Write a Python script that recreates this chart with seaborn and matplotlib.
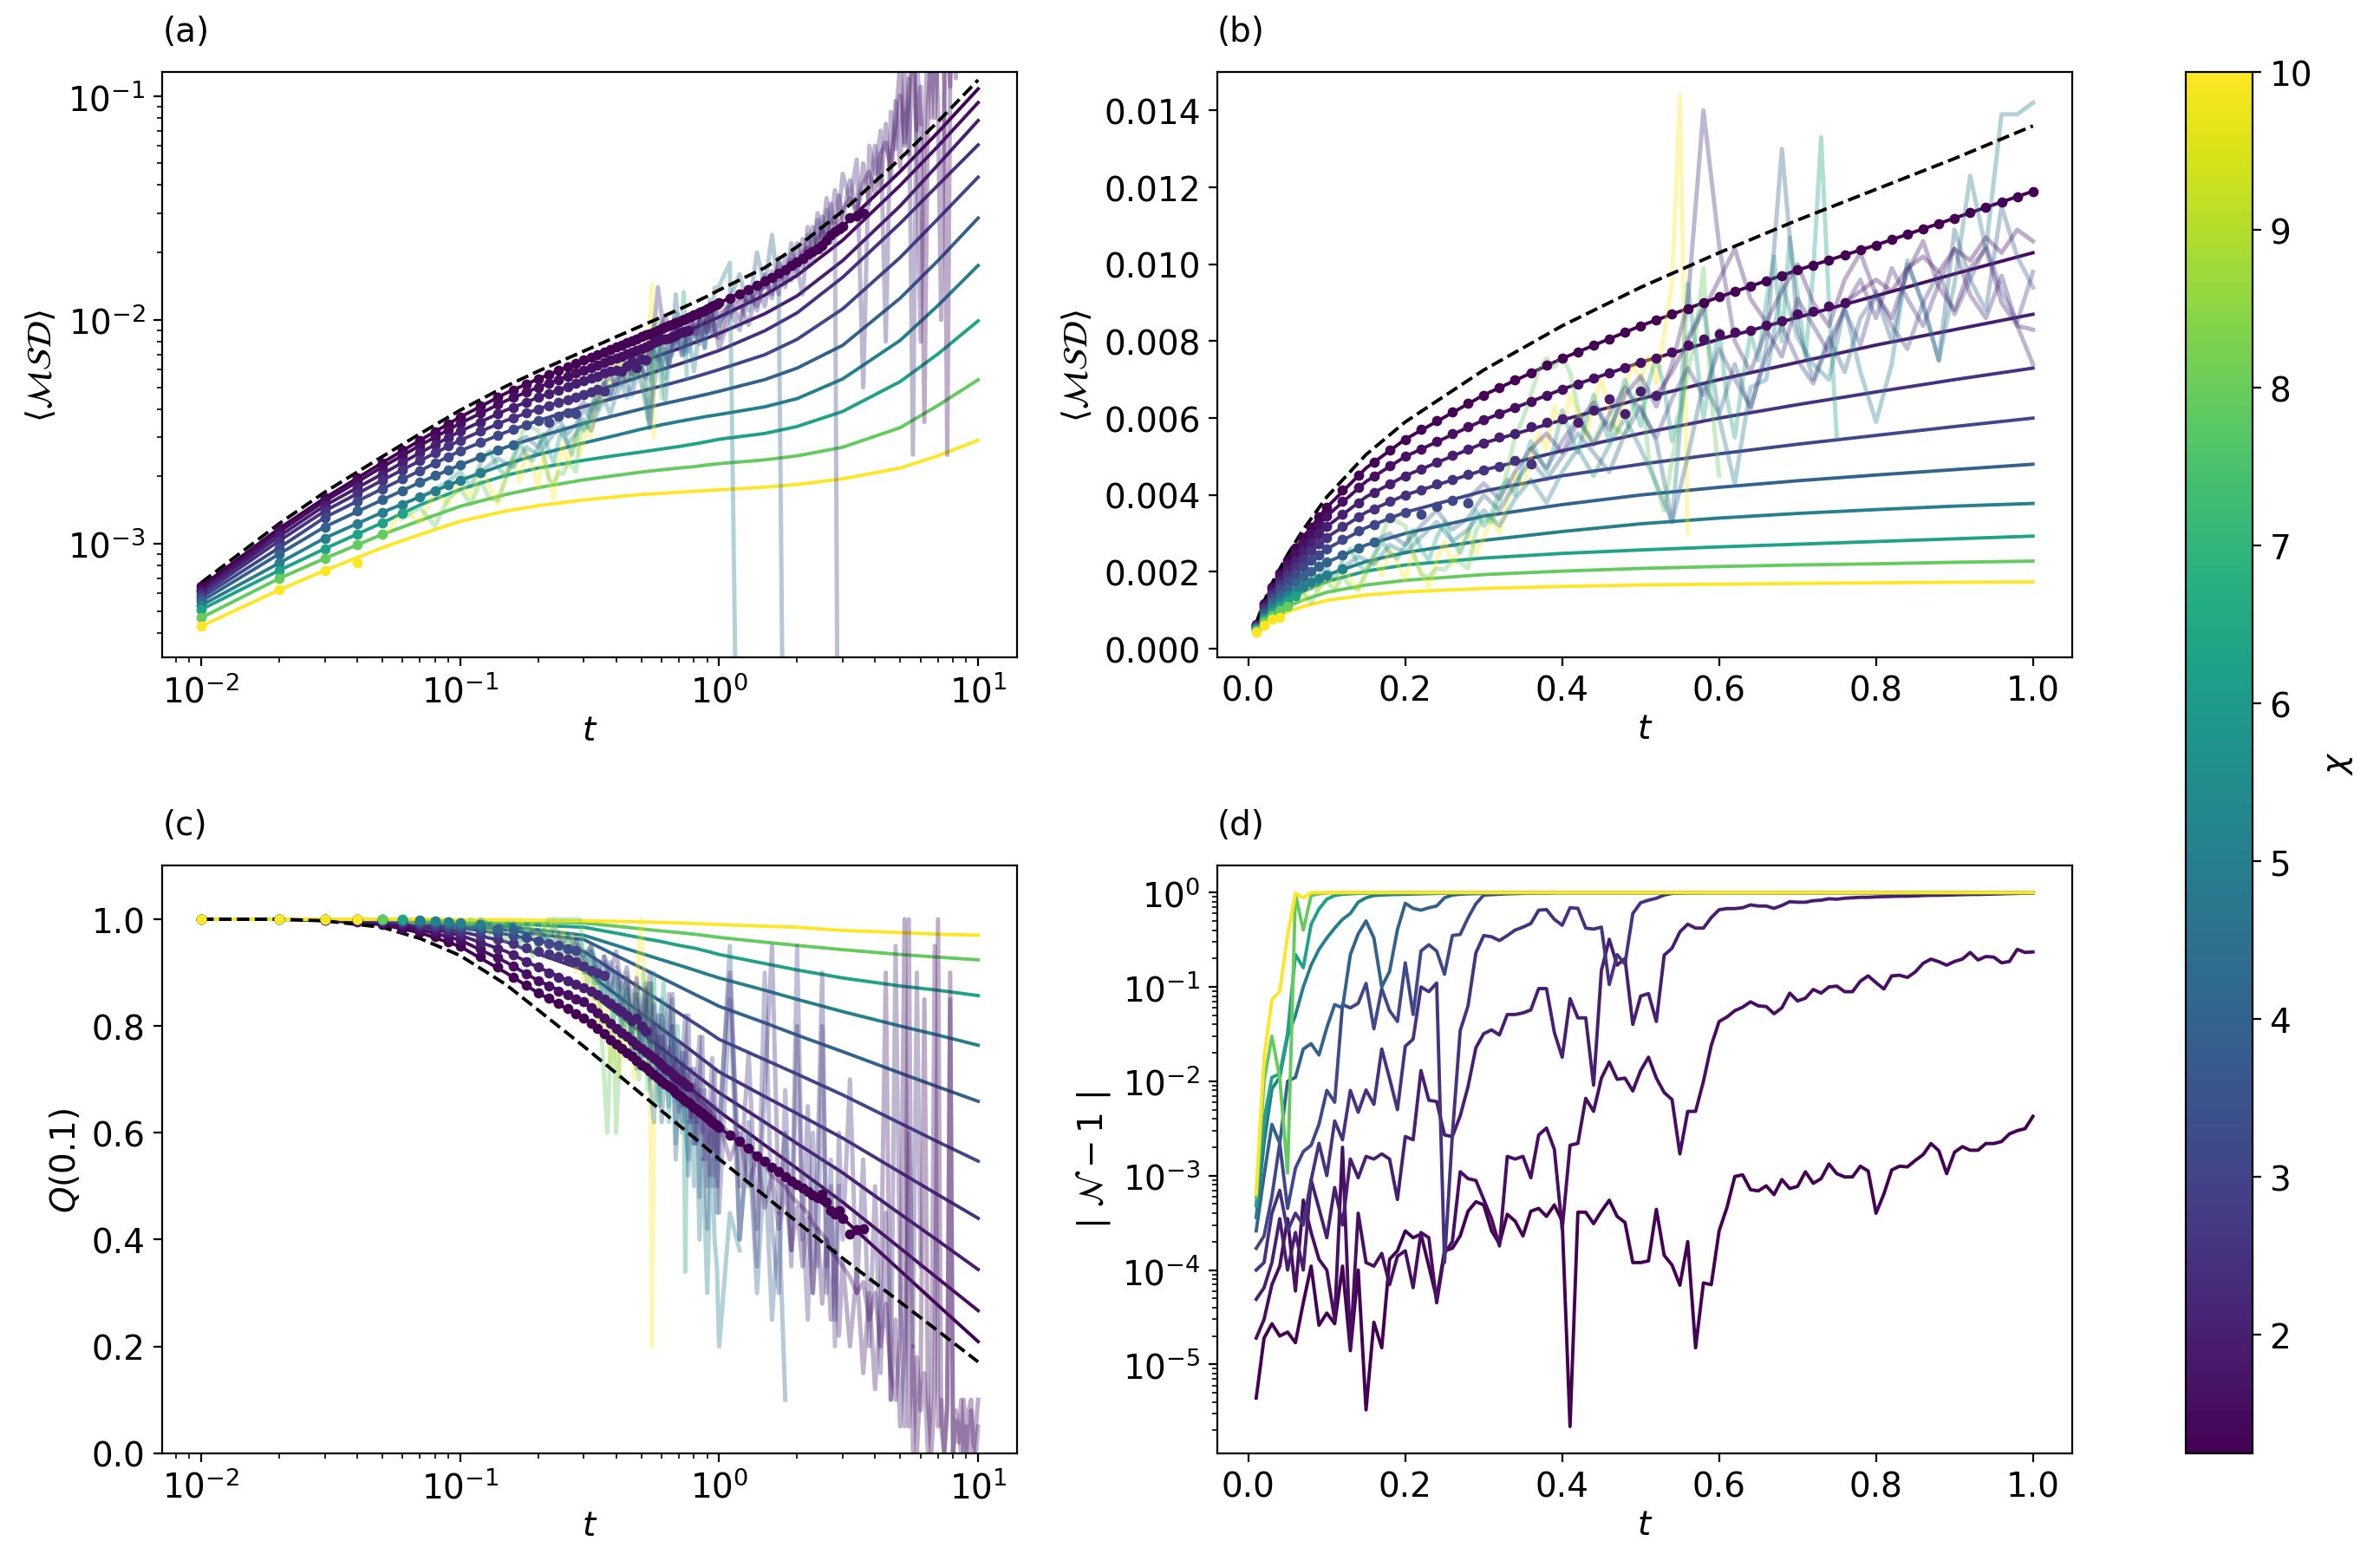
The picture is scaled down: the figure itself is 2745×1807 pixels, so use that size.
import numpy as np
import matplotlib
matplotlib.use("Agg")
import matplotlib.pyplot as plt
from matplotlib.colors import Normalize
from matplotlib.cm import ScalarMappable
import seaborn as sns

plt.rcParams["font.size"] = 14

# bond dimension of every curve (colour)
CHI = [1.25, 1.58, 1.98, 2.5, 3.15, 3.97, 5.0, 6.3, 7.94, 10.0]

# time grids of the output
T_FINE = [0.01, 0.02, 0.03, 0.04, 0.05, 0.06, 0.07, 0.08, 0.09, 0.10,
          0.11, 0.12, 0.13, 0.14, 0.15, 0.16, 0.17, 0.18, 0.19, 0.20,
          0.21, 0.22, 0.23, 0.24, 0.25, 0.26, 0.27, 0.28, 0.29, 0.30,
          0.31, 0.32, 0.33, 0.34, 0.35, 0.36, 0.37, 0.38, 0.39, 0.40,
          0.41, 0.42, 0.43, 0.44, 0.45, 0.46, 0.47, 0.48, 0.49, 0.50,
          0.51, 0.52, 0.53, 0.54, 0.55, 0.56, 0.57, 0.58, 0.59, 0.60,
          0.61, 0.62, 0.63, 0.64, 0.65, 0.66, 0.67, 0.68, 0.69, 0.70,
          0.71, 0.72, 0.73, 0.74, 0.75, 0.76, 0.77, 0.78, 0.79, 0.80,
          0.81, 0.82, 0.83, 0.84, 0.85, 0.86, 0.87, 0.88, 0.89, 0.90,
          0.91, 0.92, 0.93, 0.94, 0.95, 0.96, 0.97, 0.98, 0.99, 1.00]
T_LATE = [1.1, 1.2, 1.3, 1.4, 1.5, 1.6, 1.7, 1.8, 1.9, 2.0,
          2.1, 2.2, 2.3, 2.4, 2.5, 2.6, 2.7, 2.8, 2.9, 3.0,
          3.2, 3.4, 3.6, 3.8, 4.0, 4.2, 4.4, 4.6, 4.8, 5.0,
          5.2, 5.4, 5.6, 5.8, 6.0, 6.2, 6.4, 6.6, 6.8, 7.0,
          7.2, 7.4, 7.6, 7.8, 8.0, 8.2, 8.4, 8.6, 8.8, 9.0,
          9.2, 9.4, 9.6, 9.8, 10.0]
T_LINE = [0.01, 0.02, 0.03, 0.05, 0.07, 0.1, 0.15, 0.2, 0.3, 0.4, 0.5,
          0.6, 0.7, 0.8, 0.9, 1.0, 1.5, 2.0, 3.0, 5.0, 7.0, 10.0]

MSD_UNIT = 1e-3  # MSD values below are in units of 1e-3

# smooth MSD curves on T_LINE (X1 = chi 1.25 ... X10 = chi 10)
MSD_INF = [0.67, 1.23, 1.70, 2.45, 3.1, 3.95, 5.05, 5.9, 7.25, 8.4, 9.4,
           10.3, 11.15, 11.95, 12.75, 13.6, 17.1, 21.2, 30.6, 52.5, 76.9, 118.0]
MSD_X1 = [0.644, 1.17, 1.6, 2.3, 2.9, 3.68, 4.7, 5.45, 6.6, 7.55, 8.4,
          9.15, 9.85, 10.5, 11.2, 11.9, 14.9, 18.2, 26.2, 46.0, 68.9, 107.6]
MSD_X2 = [0.623, 1.13, 1.55, 2.2, 2.75, 3.45, 4.35, 5.0, 5.95, 6.75, 7.45,
          8.05, 8.62, 9.18, 9.75, 10.3, 12.9, 15.8, 22.7, 39.9, 59.7, 93.5]
MSD_X3 = [0.61, 1.08, 1.48, 2.05, 2.55, 3.18, 3.95, 4.5, 5.35, 5.95, 6.5,
          7.0, 7.45, 7.9, 8.3, 8.7, 10.65, 12.8, 18.4, 32.3, 49.3, 77.7]
MSD_X4 = [0.593, 1.03, 1.4, 1.92, 2.35, 2.9, 3.55, 4.0, 4.65, 5.15, 5.6,
          6.0, 6.35, 6.68, 7.0, 7.3, 8.94, 10.75, 15.5, 27.0, 40.0, 60.5]
MSD_X5 = [0.575, 0.96, 1.31, 1.76, 2.12, 2.6, 3.15, 3.55, 4.1, 4.5, 4.8,
          5.07, 5.32, 5.55, 5.78, 6.0, 6.99, 8.19, 11.2, 19.0, 28.3, 43.4]
MSD_X6 = [0.553, 0.9, 1.19, 1.57, 1.88, 2.25, 2.7, 3.0, 3.45, 3.75, 4.0,
          4.2, 4.37, 4.52, 4.66, 4.8, 5.41, 6.09, 7.7, 12.5, 18.4, 28.5]
MSD_X7 = [0.53, 0.82, 1.06, 1.38, 1.62, 1.92, 2.27, 2.5, 2.82, 3.05, 3.25,
          3.4, 3.52, 3.62, 3.71, 3.78, 4.09, 4.45, 5.45, 8.1, 11.6, 17.5]
MSD_X8 = [0.508, 0.76, 0.95, 1.24, 1.49, 1.75, 2.02, 2.18, 2.36, 2.48, 2.57,
          2.65, 2.72, 2.79, 2.86, 2.93, 3.11, 3.34, 3.9, 5.3, 7.05, 9.9]
MSD_X9 = [0.467, 0.70, 0.86, 1.1, 1.27, 1.47, 1.66, 1.78, 1.93, 2.02, 2.09,
          2.14, 2.18, 2.21, 2.25, 2.28, 2.37, 2.47, 2.7, 3.3, 4.15, 5.4]
MSD_X10 = [0.428, 0.622, 0.76, 0.96, 1.1, 1.26, 1.4, 1.48, 1.57, 1.62, 1.66,
           1.68, 1.7, 1.715, 1.73, 1.74, 1.79, 1.84, 1.95, 2.18, 2.47, 2.9]

# smooth Q(0.1) curves on T_LINE
Q_INF = [1.0, 1.0, 0.997, 0.985, 0.964, 0.932, 0.878, 0.83, 0.762, 0.712, 0.673,
         0.641, 0.614, 0.591, 0.57, 0.551, 0.482, 0.433, 0.365, 0.283, 0.229, 0.171]
Q_X1 = [1.0, 1.0, 0.998, 0.99, 0.975, 0.949, 0.90, 0.862, 0.815, 0.766, 0.728,
        0.697, 0.67, 0.648, 0.628, 0.61, 0.547, 0.503, 0.44, 0.342, 0.277, 0.209]
Q_X2 = [1.0, 1.0, 0.999, 0.993, 0.981, 0.961, 0.92, 0.885, 0.845, 0.796, 0.758,
        0.727, 0.70, 0.678, 0.658, 0.64, 0.577, 0.533, 0.47, 0.384, 0.327, 0.267]
Q_X3 = [1.0, 1.0, 1.0, 0.996, 0.987, 0.97, 0.94, 0.91, 0.872, 0.825, 0.788,
        0.758, 0.733, 0.711, 0.692, 0.675, 0.62, 0.58, 0.525, 0.448, 0.398, 0.344]
Q_X4 = [1.0, 1.0, 1.0, 0.997, 0.991, 0.977, 0.958, 0.935, 0.905, 0.859, 0.824,
        0.795, 0.771, 0.75, 0.731, 0.714, 0.668, 0.636, 0.59, 0.526, 0.484, 0.44]
Q_X5 = [1.0, 1.0, 1.0, 0.998, 0.994, 0.984, 0.972, 0.96, 0.94, 0.90, 0.87,
        0.845, 0.824, 0.806, 0.79, 0.775, 0.737, 0.71, 0.671, 0.618, 0.583, 0.547]
Q_X6 = [1.0, 1.0, 1.0, 0.999, 0.997, 0.989, 0.98, 0.972, 0.962, 0.932, 0.909,
        0.89, 0.874, 0.86, 0.848, 0.837, 0.806, 0.783, 0.752, 0.712, 0.686, 0.659]
Q_X7 = [1.0, 1.0, 1.0, 1.0, 0.998, 0.993, 0.987, 0.98, 0.97, 0.951, 0.936,
        0.924, 0.914, 0.905, 0.897, 0.89, 0.867, 0.85, 0.827, 0.80, 0.783, 0.764]
Q_X8 = [1.0, 1.0, 1.0, 1.0, 0.999, 0.995, 0.992, 0.989, 0.985, 0.974, 0.965,
        0.958, 0.951, 0.946, 0.94, 0.934, 0.917, 0.905, 0.89, 0.875, 0.867, 0.857]
Q_X9 = [1.0, 1.0, 1.0, 1.0, 1.0, 0.998, 0.997, 0.995, 0.993, 0.987, 0.982,
        0.978, 0.975, 0.972, 0.969, 0.966, 0.957, 0.951, 0.943, 0.934, 0.929, 0.924]
Q_X10 = [1.0, 1.0, 1.0, 1.0, 1.0, 0.999, 0.999, 0.998, 0.997, 0.996, 0.995,
         0.994, 0.993, 0.992, 0.991, 0.99, 0.987, 0.985, 0.979, 0.975, 0.972, 0.97]

# simulation points (dots), on DOT_T, each curve up to its own length
DOT_T = T_FINE[:10] + T_FINE[11:100:2] + T_LATE[:23]
DOT_MSD_X1 = [0.644, 1.17, 1.6, 1.97, 2.3, 2.61, 2.9, 3.17, 3.43, 3.68,
              4.12, 4.52, 4.86, 5.17, 5.45, 5.7, 5.94, 6.17, 6.39, 6.6,
              6.8, 6.99, 7.18, 7.37, 7.55, 7.72, 7.89, 8.06, 8.23, 8.4,
              8.55, 8.7, 8.85, 9.0, 9.15, 9.29, 9.43, 9.57, 9.71, 9.85,
              9.98, 10.11, 10.24, 10.37, 10.5, 10.64, 10.78, 10.92, 11.06, 11.2,
              11.34, 11.48, 11.62, 11.76, 11.9,
              12.5, 13.1, 13.7, 14.3, 14.9, 15.5, 16.2, 16.8, 17.5, 18.2,
              18.9, 19.7, 20.3, 20.7, 21.6, 22.6, 23.9, 24.9, 25.4, 26.2,
              28.6, 29.2, 30.0]
DOT_MSD_X2 = [0.623, 1.13, 1.55, 1.9, 2.2, 2.48, 2.75, 3.0, 3.23, 3.45,
              3.84, 4.2, 4.5, 4.76, 5.0, 5.2, 5.4, 5.6, 5.78, 5.95,
              6.12, 6.28, 6.44, 6.6, 6.75, 6.89, 7.03, 7.17, 7.31, 7.45,
              7.57, 7.72, 7.9, 8.05, 8.2, 8.24, 8.28, 8.42, 8.52, 8.72,
              8.78, 8.92, 9.0]
DOT_MSD_X3 = [0.61, 1.08, 1.48, 1.78, 2.05, 2.31, 2.55, 2.77, 2.98, 3.18,
              3.5, 3.8, 4.06, 4.29, 4.5, 4.68, 4.86, 5.03, 5.2, 5.35,
              5.5, 5.6, 5.78, 5.9, 5.98, 5.9, 6.2, 6.5, 6.12, 6.7, 6.6]
DOT_MSD_X4 = [0.593, 1.03, 1.4, 1.68, 1.92, 2.14, 2.35, 2.55, 2.73, 2.9,
              3.18, 3.44, 3.64, 3.83, 4.0, 4.14, 4.28, 4.41, 4.53, 4.65,
              4.75, 4.9, 4.8]
DOT_MSD_X5 = [0.575, 0.96, 1.31, 1.55, 1.76, 1.95, 2.12, 2.3, 2.45, 2.6,
              2.85, 3.06, 3.24, 3.4, 3.55, 3.5, 3.7, 3.85, 3.8]
DOT_MSD_X6 = [0.553, 0.9, 1.19, 1.4, 1.57, 1.73, 1.88, 2.02, 2.14, 2.25, 2.45, 2.62, 2.77]
DOT_MSD_X7 = [0.53, 0.82, 1.06, 1.23, 1.38, 1.5, 1.62, 1.73, 1.83, 1.92, 2.07]
DOT_MSD_X8 = [0.508, 0.76, 0.95, 1.1, 1.24, 1.37]
DOT_MSD_X9 = [0.467, 0.70, 0.86, 0.99, 1.1]
DOT_MSD_X10 = [0.428, 0.622, 0.76, 0.82]

DOT_Q_X1 = [1.0, 1.0, 0.998, 0.995, 0.99, 0.983, 0.975, 0.967, 0.958, 0.949,
            0.93, 0.91, 0.892, 0.876, 0.862, 0.852, 0.842, 0.832, 0.823, 0.815,
            0.805, 0.795, 0.785, 0.775, 0.766, 0.758, 0.75, 0.743, 0.735, 0.728,
            0.722, 0.716, 0.709, 0.703, 0.697, 0.692, 0.686, 0.681, 0.675, 0.67,
            0.666, 0.661, 0.657, 0.652, 0.648, 0.644, 0.64, 0.636, 0.632, 0.628,
            0.624, 0.62, 0.617, 0.613, 0.61,
            0.595, 0.585, 0.572, 0.557, 0.547, 0.535, 0.528, 0.518, 0.51, 0.503,
            0.497, 0.49, 0.484, 0.478, 0.485, 0.47, 0.455, 0.448, 0.455, 0.44,
            0.41, 0.418, 0.42]
DOT_Q_X2 = [1.0, 1.0, 0.999, 0.997, 0.993, 0.988, 0.981, 0.975, 0.968, 0.961,
            0.945, 0.928, 0.913, 0.898, 0.885, 0.875, 0.866, 0.858, 0.851, 0.845,
            0.835, 0.825, 0.815, 0.805, 0.796, 0.788, 0.78, 0.772, 0.765, 0.758,
            0.752, 0.746, 0.74, 0.733, 0.727, 0.721, 0.716, 0.71, 0.705, 0.70,
            0.696, 0.691, 0.687]
DOT_Q_X3 = [1.0, 1.0, 1.0, 0.998, 0.996, 0.992, 0.987, 0.982, 0.976, 0.97,
            0.957, 0.945, 0.933, 0.921, 0.91, 0.9, 0.892, 0.885, 0.878, 0.872,
            0.865, 0.858, 0.85, 0.842, 0.835, 0.828, 0.82, 0.81, 0.815, 0.80, 0.79]
DOT_Q_X4 = [1.0, 1.0, 1.0, 0.999, 0.997, 0.995, 0.991, 0.987, 0.982, 0.977,
            0.969, 0.962, 0.954, 0.946, 0.94, 0.935, 0.93, 0.925, 0.92, 0.912,
            0.905, 0.90, 0.895]
DOT_Q_X5 = [1.0, 1.0, 1.0, 1.0, 0.998, 0.996, 0.994, 0.99, 0.987, 0.984,
            0.979, 0.974, 0.97, 0.966, 0.96, 0.955, 0.952, 0.945, 0.942]
DOT_Q_X6 = [1.0, 1.0, 1.0, 1.0, 0.999, 0.998, 0.997, 0.995, 0.992, 0.989, 0.986, 0.983, 0.98]
DOT_Q_X7 = [1.0, 1.0, 1.0, 1.0, 1.0, 0.999, 0.998, 0.997, 0.995, 0.993, 0.991]
DOT_Q_X8 = [1.0, 1.0, 1.0, 1.0, 1.0, 1.0]
DOT_Q_X9 = [1.0, 1.0, 1.0, 1.0, 1.0]
DOT_Q_X10 = [1.0, 1.0, 1.0, 1.0]

# noisy continuation of the simulations (drawn faint)
NT_X10 = T_FINE[4:56]
NT_X9 = T_FINE[5:60]
NT_X8 = T_FINE[6:75]
NT_X7 = T_FINE[11:100:2] + T_LATE[0:2]
NT_X6 = T_FINE[15:100:2] + T_LATE[0:8]
NT_X5 = T_FINE[27:100:2] + T_LATE[0:19]
NT_X4 = T_FINE[35:100:2] + T_LATE[0:35]
NT_X3 = T_FINE[51:100:2] + T_LATE
NT_X2 = T_FINE[75:100:2] + T_LATE

N_MSD_X10 = [1.05, 1.4, 1.25, 1.7, 1.5, 1.9, 1.6, 2.2, 1.8, 1.5,
             2.1, 2.4, 1.9, 2.6, 2.2, 1.8, 2.5, 2.0, 1.6, 2.3,
             2.8, 2.2, 2.6, 3.1, 2.5, 2.9, 3.4, 3.0, 3.8, 4.6,
             4.2, 5.0, 5.6, 5.2, 6.3, 5.8, 6.6, 6.1, 5.5, 6.4,
             7.0, 6.2, 5.6, 6.8, 7.4, 7.0, 7.6, 6.9, 8.2, 9.5,
             14.4, 3.0]
N_MSD_X9 = [1.3, 1.45, 1.2, 1.6, 1.75, 1.5, 1.9, 1.6, 1.56, 1.94,
            2.3, 2.9, 3.5, 3.3, 3.2, 2.5, 1.94, 1.86, 2.09, 2.05,
            2.31, 2.24, 2.09, 3.06, 3.43, 3.28, 3.81, 4.63, 5.53, 5.98,
            6.6, 7.25, 7.55, 7.32, 7.62, 7.18, 6.28, 5.68, 5.38, 5.83,
            5.9, 5.7, 5.53, 6.28, 7.03, 5.0, 4.2, 3.6, 4.9, 6.0,
            7.2, 8.1, 9.9, 6.5, 4.5]
N_MSD_X8 = [1.6, 1.75, 1.9, 2.1, 1.8, 2.3, 2.6, 2.2, 2.0, 2.45,
            2.8, 2.5, 2.35, 2.7, 3.1, 2.6, 2.3, 2.9, 3.3, 2.8,
            2.5, 3.0, 3.6, 3.2, 3.5, 4.1, 4.4, 4.0, 4.8, 5.4,
            5.0, 4.6, 5.3, 6.2, 5.6, 5.1, 5.9, 6.6, 6.0, 5.4,
            6.3, 7.0, 6.4, 5.8, 6.9, 7.6, 6.8, 5.4, 6.2, 9.5,
            7.8, 6.0, 7.2, 8.3, 6.5, 5.5, 7.0, 8.2, 7.5, 9.0,
            10.2, 8.0, 10.7, 9.2, 7.6, 9.8, 13.3, 9.0, 5.5]
N_MSD_X7 = [2.1, 2.4, 2.2, 2.7, 2.5, 2.9, 3.3, 2.8, 3.1, 3.6,
            3.2, 3.9, 4.4, 3.8, 4.6, 5.2, 4.5, 5.3, 6.0, 5.2,
            4.3, 3.3, 8.1, 8.9, 6.0, 4.3, 6.8, 7.0, 9.5, 8.1,
            7.4, 7.0, 8.9, 7.2, 5.9, 7.4, 10.1, 8.9, 7.5, 9.5,
            12.3, 10.4, 13.9, 13.9, 14.2,
            18.0, 0.01]
N_MSD_X6 = [2.8, 3.0, 2.7, 3.2, 3.6, 3.1, 3.4, 4.0, 3.6, 4.3,
            4.9, 4.4, 5.0, 5.6, 5.1, 4.6, 5.6, 6.3, 5.4, 3.3,
            5.0, 6.9, 6.1, 7.4, 6.2, 7.8, 13.0, 8.4, 7.0, 8.1,
            7.2, 8.6, 9.2, 8.0, 10.0, 9.0, 7.5, 10.9, 9.6, 8.8,
            11.5, 10.2, 9.4,
            12.5, 16.0, 11.0, 20.0, 14.0, 24.0, 13.0, 0.01]
N_MSD_X5 = [3.9, 4.3, 3.9, 4.6, 5.2, 4.7, 5.4, 6.0, 5.3, 6.1,
            6.8, 6.2, 5.5, 6.5, 7.3, 6.6, 7.8, 7.0, 6.3, 7.6,
            8.4, 7.5, 6.9, 8.0, 8.8, 7.9, 9.3, 8.4, 7.8, 9.0,
            9.8, 8.7, 9.6, 10.5, 9.3, 8.5, 9.8,
            11.0, 9.0, 13.5, 11.0, 16.0, 12.5, 19.0, 14.0, 22.0, 17.0,
            13.0, 24.0, 18.0, 28.0, 20.0, 31.0, 22.0, 27.0, 0.01]
N_MSD_X4 = [5.2, 5.6, 5.1, 5.9, 6.4, 5.7, 6.6, 7.1, 6.3, 7.4,
            9.0, 14.0, 10.5, 8.0, 7.2, 8.3, 7.6, 9.1, 8.4, 7.7,
            8.9, 9.6, 8.6, 9.9, 9.1, 8.4, 9.5, 10.4, 9.2, 8.6,
            9.7, 8.4, 7.4,
            10.5, 12.0, 9.5, 14.0, 11.5, 16.5, 13.0, 19.0, 15.0, 22.0,
            17.0, 26.0, 20.0, 30.0, 23.0, 35.0, 27.0, 38.0, 30.0, 45.0,
            34.0, 52.0, 5.0, 60.0, 45.0, 70.0, 8.0, 85.0, 58.0, 100.0,
            62.0, 120.0, 2.5, 150.0, 75.0]
N_MSD_X3 = [6.6, 7.2, 8.0, 8.8, 9.6, 10.4, 9.1, 8.5, 9.3, 10.0,
            9.0, 8.4, 9.6, 10.3, 9.2, 8.6, 9.8, 10.6, 9.4, 8.8,
            9.9, 10.4, 9.0, 8.4, 8.3,
            12.0, 10.0, 14.0, 11.5, 15.5, 13.0, 18.0, 14.5, 20.0, 16.0,
            23.0, 18.0, 26.0, 20.0, 29.0, 23.0, 33.0, 26.0, 36.0, 28.0,
            42.0, 30.0, 50.0, 33.0, 60.0, 38.0, 75.0, 42.0, 95.0, 48.0,
            130.0, 55.0, 160.0, 60.0, 8.0, 70.0, 180.0, 80.0, 200.0, 90.0,
            10.0, 100.0, 220.0, 110.0, 250.0, 120.0, 260.0, 130.0, 280.0, 140.0,
            300.0, 150.0, 320.0, 160.0, 340.0]
N_MSD_X2 = [9.0, 9.3, 9.6, 9.3, 9.9, 10.2, 9.8, 10.4, 10.1, 10.7,
            10.3, 10.9, 10.6,
            11.5, 12.5, 12.0, 13.5, 14.0, 15.5, 15.0, 17.0, 18.5, 17.5,
            20.0, 21.0, 19.5, 23.0, 25.0, 23.0, 27.0, 29.0, 26.0, 31.0,
            35.0, 30.0, 41.0, 46.0, 37.0, 55.0, 62.0, 48.0, 75.0, 140.0,
            60.0, 95.0, 200.0, 70.0, 110.0, 3.5, 90.0, 160.0, 80.0, 150.0,
            250.0, 110.0, 2.5, 130.0, 200.0, 150.0, 300.0, 170.0, 220.0, 400.0,
            190.0, 260.0, 450.0, 230.0, 300.0]

N_Q_X10 = [1.0, 1.0, 0.99, 1.0, 0.99, 1.0, 0.99, 1.0, 0.98, 1.0,
           0.99, 0.97, 1.0, 0.98, 0.99, 0.96, 0.99, 0.97, 1.0, 0.95,
           0.98, 0.93, 0.97, 0.90, 0.94, 0.88, 0.92, 0.85, 0.90, 0.80,
           0.86, 0.78, 0.83, 0.72, 0.80, 0.75, 0.70, 0.78, 0.82, 0.74,
           0.85, 0.78, 0.70, 0.88, 0.95, 1.0, 0.92, 0.85, 0.78, 0.88,
           0.20, 0.62]
N_Q_X9 = [1.0, 0.99, 1.0, 0.99, 0.98, 1.0, 0.99, 0.97, 0.99, 0.96,
          0.98, 0.95, 0.97, 0.93, 0.96, 0.98, 1.0, 1.0, 1.0, 1.0,
          1.0, 1.0, 1.0, 1.0, 0.93, 0.88, 0.92, 0.85, 0.90, 0.80,
          0.70, 0.60, 0.75, 0.85, 0.60, 0.72, 0.88, 0.80, 0.90, 0.83,
          0.75, 0.86, 0.78, 0.70, 0.82, 0.90, 0.76, 0.68, 0.80, 0.88,
          0.72, 0.80, 0.66, 0.75, 0.70]
N_Q_X8 = [1.0, 0.99, 1.0, 0.99, 0.98, 1.0, 0.99, 0.97, 0.99, 0.98,
          0.96, 0.99, 0.97, 0.95, 0.98, 0.96, 0.99, 0.97, 0.94, 0.97,
          0.95, 0.92, 0.96, 0.93, 0.90, 0.94, 0.88, 0.92, 0.86, 0.90,
          0.84, 0.88, 0.80, 0.85, 0.90, 0.82, 0.78, 0.86, 0.80, 0.75,
          0.83, 0.88, 0.79, 0.72, 0.80, 0.85, 0.76, 0.70, 0.82, 0.90,
          0.78, 0.74, 0.65, 0.80, 0.88, 0.75, 0.70, 0.62, 0.78, 0.85,
          0.72, 0.66, 0.80, 0.74, 0.68, 0.60, 0.72, 0.34, 0.62]
N_Q_X7 = [0.99, 0.98, 0.99, 0.97, 0.98, 0.96, 0.94, 0.97, 0.95, 0.92,
          0.95, 0.90, 0.86, 0.92, 0.85, 0.80, 0.88, 0.78, 0.72, 0.82,
          0.88, 0.70, 0.62, 0.78, 0.85, 0.72, 0.65, 0.80, 0.58, 0.70,
          0.75, 0.62, 0.55, 0.68, 0.50, 0.62, 0.40, 0.55, 0.45, 0.30,
          0.48, 0.55, 0.40, 0.35, 0.20,
          0.45, 0.38]
N_Q_X6 = [0.99, 0.97, 0.98, 0.95, 0.97, 0.93, 0.96, 0.90, 0.94, 0.88,
          0.92, 0.85, 0.90, 0.82, 0.87, 0.78, 0.85, 0.72, 0.80, 0.88,
          0.70, 0.78, 0.62, 0.75, 0.68, 0.80, 0.55, 0.70, 0.62, 0.75,
          0.52, 0.66, 0.58, 0.70, 0.48, 0.62, 0.55, 0.42, 0.60, 0.50,
          0.65, 0.45, 0.58,
          0.95, 0.40, 0.60, 0.30, 0.55, 0.25, 0.45, 0.10]
N_Q_X5 = [0.96, 0.93, 0.95, 0.90, 0.93, 0.87, 0.91, 0.84, 0.89, 0.80,
          0.86, 0.76, 0.83, 0.90, 0.74, 0.82, 0.70, 0.79, 0.86, 0.68,
          0.77, 0.64, 0.74, 0.82, 0.62, 0.72, 0.58, 0.70, 0.78, 0.55,
          0.68, 0.50, 0.64, 0.74, 0.52, 0.60, 0.45,
          0.85, 0.40, 0.62, 0.35, 0.90, 0.42, 0.30, 0.68, 0.38, 0.95,
          0.45, 0.25, 0.60, 0.35, 0.80, 0.30, 0.55, 0.20, 0.50]
N_Q_X4 = [0.93, 0.90, 0.94, 0.87, 0.91, 0.84, 0.89, 0.80, 0.87, 0.76,
          0.84, 0.72, 0.82, 0.70, 0.79, 0.86, 0.68, 0.77, 0.65, 0.74,
          0.82, 0.62, 0.72, 0.58, 0.70, 0.78, 0.55, 0.66, 0.52, 0.64,
          0.72, 0.50, 0.62,
          0.90, 0.50, 0.75, 0.42, 0.68, 0.95, 0.45, 0.60, 0.35, 0.80,
          0.40, 0.65, 0.30, 0.55, 0.90, 0.35, 0.50, 0.25, 0.60, 0.40,
          0.70, 0.30, 0.55, 0.20, 0.50, 0.15, 0.45, 0.10, 0.95, 0.30,
          0.05, 0.60, 0.20, 0.90, 0.35]
N_Q_X3 = [0.79, 0.77, 0.80, 0.74, 0.78, 0.71, 0.76, 0.69, 0.74, 0.67,
          0.73, 0.65, 0.71, 0.63, 0.69, 0.62, 0.68, 0.60, 0.66, 0.58,
          0.65, 0.57, 0.63, 0.55, 0.62,
          0.55, 0.60, 0.50, 0.56, 0.46, 0.52, 0.42, 0.50, 0.38, 0.46,
          0.35, 0.44, 0.30, 0.42, 0.28, 0.40, 0.25, 0.38, 0.22, 0.36,
          0.20, 0.34, 0.15, 0.30, 0.12, 0.28, 0.90, 0.10, 0.25, 0.05,
          0.20, 1.0, 0.0, 0.18, 0.08, 0.15, 0.0, 0.12, 0.95, 0.05,
          0.10, 0.0, 0.08, 0.85, 0.0, 0.06, 0.02, 0.10, 0.0, 0.05,
          0.0, 0.08, 0.02, 0.0, 0.05]
N_Q_X2 = [0.687, 0.68, 0.675, 0.67, 0.66, 0.655, 0.65, 0.645, 0.64, 0.63,
          0.625, 0.62, 0.615,
          0.60, 0.58, 0.57, 0.55, 0.54, 0.52, 0.51, 0.50, 0.48, 0.47,
          0.46, 0.45, 0.43, 0.42, 0.41, 0.40, 0.38, 0.37, 0.36, 0.35,
          0.33, 0.30, 0.32, 0.25, 0.30, 0.20, 0.28, 0.15, 0.10, 0.22,
          1.0, 0.05, 0.20, 0.0, 0.15, 0.85, 0.10, 0.0, 0.12, 1.0,
          0.05, 0.0, 0.10, 0.90, 0.0, 0.08, 0.05, 0.0, 0.10, 0.0,
          0.08, 0.10, 0.0, 0.05, 0.10]

# |N - 1| on T_FINE (lines that saturate stop early and end at t = 1)
D_X1 = [4.4e-6, 1.9e-5, 2.7e-5, 2.0e-5, 2.2e-5, 1.7e-5, 4.5e-5, 1.1e-4, 2.6e-5, 3.5e-5,
        2.7e-5, 1.1e-4, 1.4e-5, 1.0e-4, 3.3e-6, 2.8e-5, 1.5e-5, 1.3e-4, 1.6e-4, 2.6e-4,
        2.2e-4, 2.4e-4, 1.1e-4, 5.0e-5, 1.6e-4, 1.7e-4, 2.3e-4, 4.2e-4, 5.3e-4, 4.9e-4,
        2.6e-4, 1.9e-4, 3.9e-4, 3.3e-4, 2.3e-4, 4.2e-4, 4.5e-4, 3.7e-4, 4.9e-4, 3.3e-4,
        2.2e-6, 4.1e-4, 4.1e-4, 3.1e-4, 4.2e-4, 5.5e-4, 3.7e-4, 3.2e-4, 1.2e-4, 1.2e-4,
        1.25e-4, 4.4e-4, 1.43e-4, 1.13e-4, 6.9e-5, 2.0e-4, 1.5e-5, 7.3e-5, 7.0e-5, 2.6e-4,
        4.6e-4, 9.8e-4, 1.02e-3, 7.1e-4, 6.9e-4, 7.8e-4, 6.3e-4, 9.1e-4, 7.3e-4, 7.7e-4,
        1.1e-3, 8.3e-4, 9.3e-4, 1.33e-3, 1.05e-3, 9.7e-4, 9.7e-4, 1.26e-3, 1.12e-3, 4.0e-4,
        6.4e-4, 1.15e-3, 1.26e-3, 1.24e-3, 1.45e-3, 1.67e-3, 2.19e-3, 1.84e-3, 1.05e-3, 1.77e-3,
        2.03e-3, 1.86e-3, 1.86e-3, 2.19e-3, 2.19e-3, 2.3e-3, 2.77e-3, 3.0e-3, 3.15e-3, 4.25e-3]
D_X2 = [1.9e-5, 3.0e-5, 7.0e-5, 1.1e-4, 3.5e-4, 6.0e-5, 5.5e-4, 2.5e-4, 1.3e-4, 1.0e-4,
        3.0e-5, 2.0e-3, 1.5e-5, 4.0e-4, 1.2e-4, 1.1e-4, 1.5e-4, 7.0e-5, 1.4e-4, 1.6e-4,
        6.5e-5, 2.5e-4, 2.2e-4, 4.5e-5, 1.5e-4, 2.0e-4, 1.1e-3, 9.3e-4, 8.9e-4, 5.6e-4,
        3.5e-4, 1.8e-4, 1.6e-3, 1.5e-3, 1.6e-3, 9.5e-4, 2.7e-3, 3.2e-3, 1.9e-3, 2.7e-4,
        2.1e-3, 2.2e-3, 6.6e-3, 4.8e-3, 1.08e-2, 1.6e-2, 1.05e-2, 1.08e-2, 7.9e-3, 1.3e-2,
        1.8e-2, 1.08e-2, 7.6e-3, 6.4e-3, 1.7e-3, 4.8e-3, 4.8e-3, 1.0e-2, 2.4e-2, 4.3e-2,
        4.8e-2, 5.6e-2, 6.1e-2, 6.95e-2, 6.3e-2, 6.2e-2, 5.2e-2, 6.0e-2, 8.6e-2, 7.1e-2,
        7.6e-2, 9.4e-2, 8.6e-2, 0.1, 0.102, 8.9e-2, 8.9e-2, 0.115, 0.131, 0.111,
        9.5e-2, 0.131, 0.133, 0.126, 0.144, 0.178, 0.197, 0.185, 0.17, 0.186,
        0.197, 0.232, 0.193, 0.21, 0.207, 0.18, 0.186, 0.25, 0.232, 0.235]
D_X3 = [4.9e-5, 6.5e-5, 1.2e-4, 3.5e-4, 1.0e-4, 2.5e-4, 1.0e-4, 9.0e-4, 4.5e-4, 2.2e-4,
        7.5e-4, 3.0e-4, 1.5e-3, 9.5e-4, 1.6e-3, 1.5e-3, 1.7e-3, 1.5e-3, 5.6e-4, 2.6e-3,
        2.4e-3, 1.3e-2, 6.3e-3, 6.1e-3, 2.7e-3, 2.6e-3, 4.3e-3, 8.8e-3, 2.27e-2, 3.2e-2,
        3.5e-2, 3.1e-2, 5.1e-2, 5.1e-2, 5.3e-2, 5.7e-2, 9.6e-2, 9.6e-2, 3.3e-2, 1.8e-2,
        7.5e-2, 4.7e-2, 4.7e-2, 9.1e-3, 0.15, 0.32, 0.17, 0.2, 0.04, 0.08,
        0.085, 0.043, 0.217, 0.257, 0.383, 0.462, 0.42, 0.42, 0.543, 0.657,
        0.676, 0.676, 0.69, 0.74, 0.72, 0.72, 0.68, 0.73, 0.80, 0.79,
        0.79, 0.82, 0.83, 0.86, 0.85, 0.87, 0.88, 0.89, 0.89, 0.90,
        0.905, 0.91, 0.915, 0.915, 0.92, 0.93, 0.935, 0.935, 0.94, 0.945,
        0.95, 0.955, 0.955, 0.96, 0.965, 0.97, 0.975, 0.98, 0.985, 0.99]
D_X4 = [1.0e-4, 1.2e-4, 4.0e-4, 7.0e-4, 2.6e-4, 4.0e-4, 3.0e-4, 9.0e-4, 2.2e-3, 1.0e-3,
        3.8e-3, 2.4e-3, 8.0e-3, 4.7e-3, 8.1e-3, 5.7e-3, 2.2e-2, 1.07e-2, 5.0e-3, 2.35e-2,
        2.8e-2, 0.10, 0.089, 0.11, 1.2e-4, 2.7e-3, 0.0345, 0.063, 0.23, 0.35,
        0.34, 0.31, 0.35, 0.40, 0.43, 0.47, 0.65, 0.66, 0.52, 0.45,
        0.69, 0.68, 0.42, 0.41, 0.43, 0.106, 0.22, 0.175, 0.6, 0.78,
        0.83, 0.87, 0.94, 0.98, 0.99, 0.995, 0.995, 1.0, 1.0, 1.0, 1.0]
D_X5 = [1.7e-4, 2.3e-4, 6.0e-4, 2.2e-3, 4.5e-4, 1.2e-3, 1.8e-3, 2.1e-3, 3.5e-3, 8.0e-3,
        6.0e-3, 6.5e-2, 6.0e-2, 6.7e-2, 0.109, 0.036, 0.096, 0.056, 0.043, 0.18,
        0.051, 0.24, 0.28, 0.24, 0.136, 0.35, 0.36, 0.54, 0.76, 0.94,
        0.95, 0.96, 0.97, 0.975, 0.98, 0.985, 0.99, 0.99, 0.995, 1.0, 1.0]
D_X6 = [2.6e-4, 1.0e-3, 3.5e-3, 2.2e-3, 1.0e-2, 1.1e-2, 2.2e-2, 2.5e-2, 1.9e-2, 3.7e-2,
        6.5e-2, 6.0e-2, 0.22, 0.365, 0.5, 0.33, 0.1, 0.146, 0.405, 0.77,
        0.68, 0.65, 0.69, 0.72, 0.88, 0.94, 0.96, 0.97, 0.975, 0.98,
        0.982, 0.985, 0.988, 0.99, 0.99, 0.993, 0.995, 0.997, 0.998, 1.0, 1.0]
D_X7 = [3.6e-4, 2.2e-3, 8.3e-3, 1.1e-2, 3.0e-2, 5.0e-2, 0.1, 0.17, 0.25, 0.33,
        0.42, 0.52, 0.6, 0.79, 0.88, 0.93, 0.94, 0.95, 0.955, 0.96,
        0.965, 0.97, 0.975, 0.98, 0.985, 0.99, 0.992, 0.995, 0.998, 1.0, 1.0]
D_X8 = [4.8e-4, 3.9e-3, 1.1e-2, 1.2e-2, 3.2e-2, 0.22, 0.16, 0.46, 0.67, 0.85,
        0.93, 0.96, 0.97, 0.98, 0.985, 0.99, 0.993, 0.995, 0.998, 1.0, 1.0]
D_X9 = [5.9e-4, 1.0e-2, 3.0e-2, 1.1e-2, 1.07e-3, 0.96, 0.40, 0.93, 0.97, 0.99,
        0.995, 0.997, 0.998, 0.999, 1.0, 1.0, 1.0, 1.0, 1.0, 1.0, 1.0]
D_X10 = [6.4e-4, 1.76e-2, 7.3e-2, 9.0e-2, 0.35, 0.98, 0.88, 1.0, 1.0, 1.0,
         1.0, 1.0, 1.0, 1.0, 1.0, 1.0, 1.0, 1.0, 1.0, 1.0, 1.0]

MSD_LINES = [MSD_X1, MSD_X2, MSD_X3, MSD_X4, MSD_X5, MSD_X6, MSD_X7, MSD_X8, MSD_X9, MSD_X10]
Q_LINES = [Q_X1, Q_X2, Q_X3, Q_X4, Q_X5, Q_X6, Q_X7, Q_X8, Q_X9, Q_X10]
DOT_MSD = [DOT_MSD_X1, DOT_MSD_X2, DOT_MSD_X3, DOT_MSD_X4, DOT_MSD_X5,
           DOT_MSD_X6, DOT_MSD_X7, DOT_MSD_X8, DOT_MSD_X9, DOT_MSD_X10]
DOT_Q = [DOT_Q_X1, DOT_Q_X2, DOT_Q_X3, DOT_Q_X4, DOT_Q_X5,
         DOT_Q_X6, DOT_Q_X7, DOT_Q_X8, DOT_Q_X9, DOT_Q_X10]
# (index into CHI, time grid, msd, q)
NOISE = [(9, NT_X10, N_MSD_X10, N_Q_X10), (8, NT_X9, N_MSD_X9, N_Q_X9),
         (7, NT_X8, N_MSD_X8, N_Q_X8), (6, NT_X7, N_MSD_X7, N_Q_X7),
         (5, NT_X6, N_MSD_X6, N_Q_X6), (4, NT_X5, N_MSD_X5, N_Q_X5),
         (3, NT_X4, N_MSD_X4, N_Q_X4), (2, NT_X3, N_MSD_X3, N_Q_X3),
         (1, NT_X2, N_MSD_X2, N_Q_X2)]
D_LINES = [(T_FINE, D_X1), (T_FINE, D_X2), (T_FINE, D_X3),
           (T_FINE[:60] + [1.0], D_X4), (T_FINE[:40] + [1.0], D_X5),
           (T_FINE[:40] + [1.0], D_X6), (T_FINE[:30] + [1.0], D_X7),
           (T_FINE[:20] + [1.0], D_X8), (T_FINE[:20] + [1.0], D_X9),
           (T_FINE[:20] + [1.0], D_X10)]

cmap = plt.get_cmap("viridis")
norm = Normalize(vmin=1.25, vmax=10.0)
COLORS = [cmap(norm(c)) for c in CHI]


def pick(t, v, scale=1.0, tmax=None):
    t = np.asarray(t, dtype=float)
    v = np.asarray(v, dtype=float) * scale
    if tmax is not None:
        keep = t <= tmax + 1e-9
        t, v = t[keep], v[keep]
    return t, v


def draw_line(ax, t, v, color, scale=1.0, tmax=None, **kw):
    t, v = pick(t, v, scale, tmax)
    sns.lineplot(x=t, y=v, color=color, ax=ax, estimator=None, sort=False, **kw)


def draw_dots(ax, t, v, color, scale=1.0, tmax=None):
    t, v = pick(t[:len(v)], v, scale, tmax)
    sns.scatterplot(x=t, y=v, color=color, ax=ax, s=18, linewidth=0, zorder=4)


def panel(ax, lines, inf, dots, which, scale, tmax=None):
    for k in range(len(CHI)):
        draw_line(ax, T_LINE, lines[k], COLORS[k], scale, tmax, lw=1.4, zorder=2)
    draw_line(ax, T_LINE, inf, "black", scale, tmax, lw=1.4, ls="--", zorder=3)
    for k, t, msd, q in NOISE:
        vals = msd if which == "msd" else q
        draw_line(ax, t, vals, COLORS[k], scale, tmax, lw=1.8, alpha=0.35, zorder=2.5)
    for k in range(len(CHI)):
        draw_dots(ax, DOT_T, dots[k], COLORS[k], scale, tmax)


fig = plt.figure(figsize=(13.725, 9.04), dpi=200)
ax_a = fig.add_axes([0.0682, 0.580, 0.3591, 0.3735])
ax_b = fig.add_axes([0.5115, 0.580, 0.3590, 0.3735])
ax_c = fig.add_axes([0.0682, 0.0726, 0.3591, 0.3746])
ax_d = fig.add_axes([0.5115, 0.0726, 0.3590, 0.3746])
cax = fig.add_axes([0.9184, 0.0726, 0.028, 0.8809])

# (a) MSD, log-log
ax_a.set_xscale("log")
ax_a.set_yscale("log")
panel(ax_a, MSD_LINES, MSD_INF, DOT_MSD, "msd", MSD_UNIT)
ax_a.set_ylim(3.1e-4, 0.128)
ax_a.set_ylabel(r"$\langle \mathcal{MSD} \rangle$")

# (b) MSD, linear, t <= 1
panel(ax_b, MSD_LINES, MSD_INF, DOT_MSD, "msd", MSD_UNIT, tmax=1.0)
ax_b.set_xlim(-0.0395, 1.0495)
ax_b.set_ylim(-0.00023, 0.015)
ax_b.set_ylabel(r"$\langle \mathcal{MSD} \rangle$")

# (c) overlap Q(0.1)
ax_c.set_xscale("log")
panel(ax_c, Q_LINES, Q_INF, DOT_Q, "q", 1.0)
ax_c.set_ylim(0.0, 1.1)
ax_c.set_ylabel(r"$Q(0.1)$")

# (d) norm deviation
ax_d.set_yscale("log")
for k, (t, v) in enumerate(D_LINES):
    draw_line(ax_d, t, v, COLORS[k], lw=1.4)
ax_d.set_xlim(-0.0395, 1.0495)
ax_d.set_ylabel(r"$|\ \mathcal{N} - 1\ |$")

for ax, lab in zip([ax_a, ax_b, ax_c, ax_d], ["(a)", "(b)", "(c)", "(d)"]):
    ax.set_xlabel(r"$t$", labelpad=2)
    ax.text(0.0, 1.07, lab, transform=ax.transAxes, ha="left", va="center", fontsize=14)
    ax.tick_params(labelsize=14)

cb = fig.colorbar(ScalarMappable(norm=norm, cmap=cmap), cax=cax)
cb.set_ticks([2, 3, 4, 5, 6, 7, 8, 9, 10])
cb.set_label(r"$\chi$", fontsize=14)
cb.ax.tick_params(labelsize=14)

fig.savefig("out.png", dpi=200)
